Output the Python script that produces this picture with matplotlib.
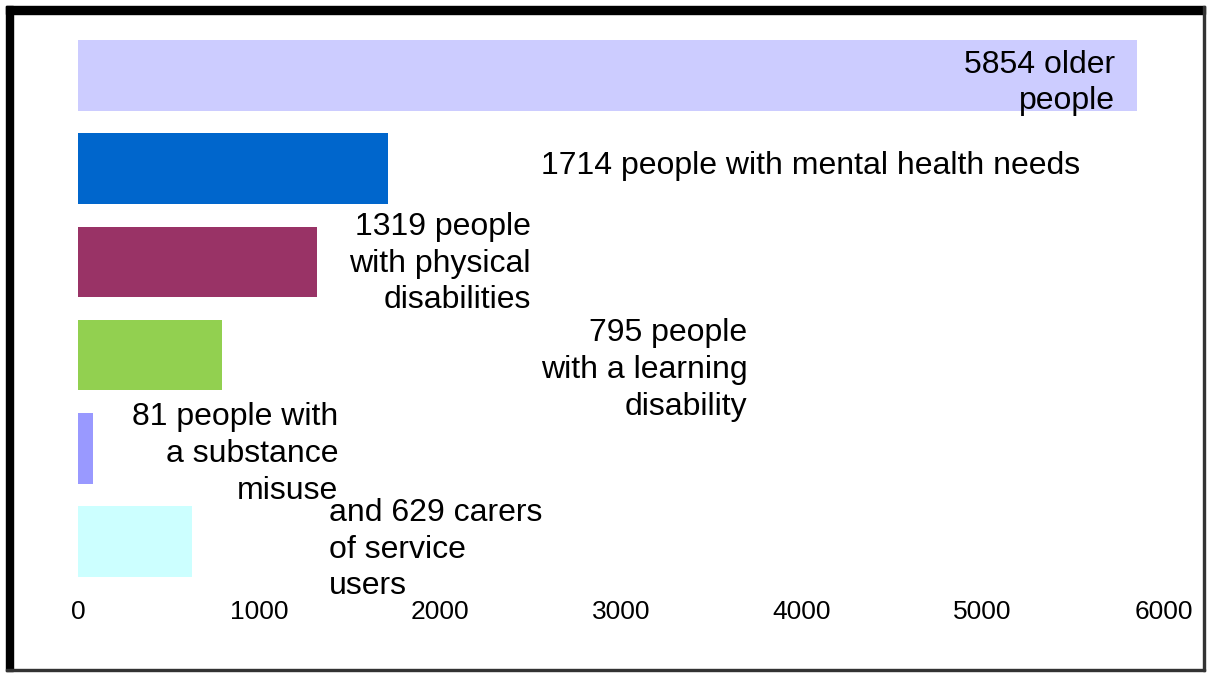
import matplotlib.pyplot as plt
from matplotlib.patches import Rectangle

plt.rcParams['font.family'] = ['Liberation Sans', 'DejaVu Sans']

groups = ['older people', 'mental health needs', 'physical disabilities',
          'learning disability', 'substance misuse', 'carers']
values = [5854, 1714, 1319, 795, 81, 629]
colors = ['#CCCCFF', '#0066CC', '#993366', '#92D050', '#9999FF', '#CCFFFF']
labels = ['5854 older\npeople',
          '1714 people with mental health needs',
          '1319 people\nwith physical\ndisabilities',
          '795 people\nwith a learning\ndisability',
          '81 people with\na substance\nmisuse',
          'and 629 carers\nof service\nusers']

# label placement (data x, row y, alignment)
label_pos = [(5734, 0.08, 'right'), (5540, 0.97, 'right'), (2504, 2.02, 'right'),
             (3701, 3.16, 'right'), (1440, 4.06, 'right'), (1385, 5.09, 'left')]

W, H = 1207, 673
fig = plt.figure(figsize=(W / 100, H / 100), dpi=100)
ax = fig.add_axes([78 / W, 1 - 588 / H, (1163.5 - 78) / W, (588 - 29) / H])

y = range(len(values))
ax.barh(y, values, height=0.76, color=colors)
ax.set_xlim(0, 6000)
ax.set_ylim(5.5, -0.5)
ax.set_yticks([])
ax.set_xticks([0, 1000, 2000, 3000, 4000, 5000, 6000])
ax.tick_params(axis='x', length=0, pad=8.5, labelsize=19)
for s in ax.spines.values():
    s.set_visible(False)

for txt, (lx, ly, ha) in zip(labels, label_pos):
    ax.text(lx, ly, txt, ha=ha, va='center', fontsize=23, linespacing=1.29)


def frame(x0, y0, x1, y1, c):
    # pixel box (top-left origin) -> figure rectangle
    fig.patches.append(Rectangle((x0 / W, 1 - y1 / H), (x1 - x0) / W, (y1 - y0) / H,
                                 transform=fig.transFigure, color=c, zorder=0))


frame(6, 6, 1205, 14, 'black')
frame(6, 6, 13, 671, 'black')
frame(1203, 6, 1205, 671, '#333333')
frame(6, 669, 1205, 671, '#333333')

fig.savefig('out.png', dpi=100)
